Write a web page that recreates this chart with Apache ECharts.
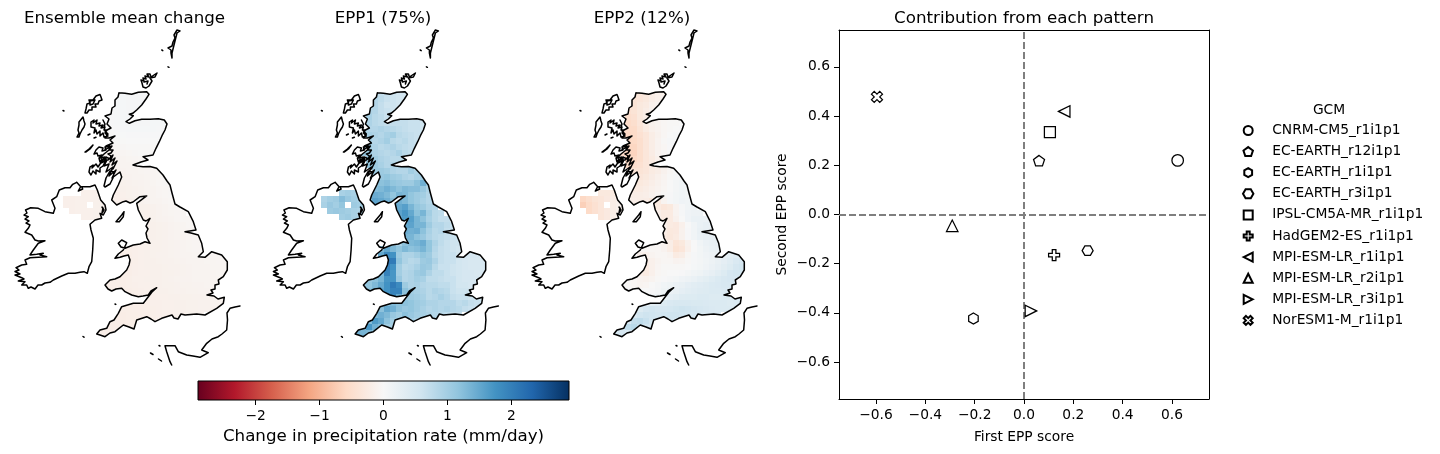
<!DOCTYPE html>
<html><head><meta charset="utf-8">
<script src="https://cdn.jsdelivr.net/npm/echarts@6/dist/echarts.min.js"></script>
<style>html,body{margin:0;padding:0;background:#fff}#c{width:1440px;height:454px}</style>
</head><body><div id="c"></div>
<script>
const gcmNames=['CNRM-CM5_r1i1p1','EC-EARTH_r12i1p1','EC-EARTH_r1i1p1','EC-EARTH_r3i1p1','IPSL-CM5A-MR_r1i1p1','HadGEM2-ES_r1i1p1','MPI-ESM-LR_r1i1p1','MPI-ESM-LR_r2i1p1','MPI-ESM-LR_r3i1p1','NorESM1-M_r1i1p1'];
const firstScore=[0.623,0.061,-0.205,0.258,0.105,0.122,0.163,-0.291,0.028,-0.596];
const secondScore=[0.22,0.219,-0.423,-0.147,0.335,-0.165,0.419,-0.046,-0.392,0.478];
const scoreTicks=[-0.6,-0.4,-0.2,0,0.2,0.4,0.6];
const barTicks=[-2,-1,0,1,2];
const panelTitles=['Ensemble mean change','EPP1 (75%)','EPP2 (12%)'];

// coastlines, map units, x,y pairs
const coastGB=[119,92.7,125,93.3,131.7,94.3,138.3,92.3,146.7,91.7,149,94.3,146,99,141.7,105,136.7,110,132.7,113.3,129.3,114.3,133.3,115.7,130,119,126,121.7,129.3,123.3,135,120.7,141.7,119.3,150,119.3,158.3,118.7,164.3,120,167,124,165,130,162,135.7,159.3,141.7,156,148.3,153,155,143,156.7,148,160,141,162,133,165,137,166,143,166.7,150,166.5,156.7,168.3,163,175,167,181,170,185,172,193,175,204,180,207,188.3,211.7,193.3,221.7,196,230,185,231.7,191,233,198.3,235,201.7,243.3,203.3,251.7,198.3,256.7,205,257.3,211.7,251.7,221.7,255,227.3,261.7,227.3,270,223.3,276.7,218.3,280,219,284,215,285,215,289,211,290,213,293,207,295,214,296,218,299,224.3,297.3,223.3,303.3,216.7,308.3,205,315,196.7,314,185,315,181,314,178,319,174,318,172,315,161.7,318.3,155,321.7,151,319,146.7,316.7,136.7,320,134,329,129,327,123.3,325,115,331.7,110,333,105,336.7,100,335,96.7,334,100,330,106.7,328.3,110,321.7,114,320,118.3,313.3,121.7,306.7,133.3,303.3,143.3,303.3,148.3,296.7,152,292,156.7,287.7,151,291,148.3,295,143,296,138.3,296.7,131.7,295,125,291.7,121.7,288.3,116,289,111.7,291,108,289,105,285,110,280,115,279,120,276.7,126.7,270,129,265,130,260,128.3,255,124,256,120,257.3,115,258.3,118.3,254,123.3,250,125,248.3,126.7,242.7,121.7,240,118.3,243.3,121,247,125,248.3,133.3,245,140,244,145,241.7,150,243.3,147,238,146,233,148,229,146,226,150,218.3,146,221,143.3,220,138.3,210,136.7,203.3,143.3,198.3,146.7,196,140,196.7,133,202,130,203,126,201,123.3,201.7,116.7,205,111.7,200,113.3,195,118.3,185,121.7,177,120,172,112,178,116,170,109,176,113,167,106,172,109,164,104,166,107,160,101,163,105,157,100,158,104,154,109,150,112,146,108,148,105,150,106,146,113,143,110,140,115,136,109,138,105,138,108,134,105,131,111,128,107,124,109,119,105,116,111,114,112,108,115,106,115,100,118,97,119,92.7];
const coastIreland=[76.7,182.3,80.7,186.7,78.3,191,82.7,189,81.7,186.7,90,186.7,95,185,97.3,190,100.7,200,105,205,106,210,103.3,215,100,213.3,101.7,218.3,95,220,90,224.3,91,230,93.3,238.3,92.7,250,91.7,261.7,89,266.7,87.3,273.3,84,271.7,80,272.3,75,273.3,68.3,273.3,61.7,276,53.3,280,50,282.3,45,283,41.7,285,38,285,35,289,31,287,28.3,288.3,26.7,285,21.7,285,25,281.7,18.3,281,24,279,21.7,277.7,15,275,20,274,15,271.5,19,270,16,267.7,21.7,265,26.7,264.3,25,260,30,257.7,46.7,256.7,40,255,43.3,253.3,36.7,254.3,30,255,33.3,250,38.3,243.3,45,240.7,38.3,241,35,240,31.7,235,25,232.3,28.3,228.3,30,225,26,223,29,221,25,219,28.3,216.7,24,215,27,213,25.5,210,30.7,207.7,38.3,208.3,45,211.7,53.3,213.3,55,208.3,51.7,200,56.7,196.7,59.3,190,65,187.7,70,187.7,72.7,184.3,76.7,182.3];
const coastIslands=[
 [91,122,94,120,93,123,97,120,96,124,100,123,99,126,103,125,101,128,105,127,104,130,107,130,105,133,108,136,104,137,103,133,100,136,100,131,97,134,96,130,94,133,92,131,95,128,91,127,93,125,91,122],
 [103,120,105,124,104,127],
 [85,152,89,149,93,145,90,149,86,152],
 [96,150,99,147,103,148,102,151,106,150,105,147,110,146,109,150,113,150,111,153,108,154,111,156,110,159,106,157,105,161,102,159,100,162,99,158,102,155,98,156,97,153,94,154,96,150],
 [108,160,113,155,110,162,115,158,112,165,117,161,113,169],
 [90,167,93,165,92,168,96,164,98,167,100,164,103,160,106,158,105,162,103,166,100,168,100,172,96,170,96,174,93,171,91,175,89,172,91,170,90,167],
 [104,186,106,178,110,171,114,172,113,178,110,184,105,187,104,186],
 [85,113,86,109,84,108,87,104,90,103,89,100,93,100,95,98,96,96,100,94.5,101,97,102,100,99,101,98,104,95,104,96,107,92,107,92,110,89,110,87,113,85,113],
 [90,101,95,100,97,101,93,104,90,105,90,101],
 [77,137,76,135,79,133,78,130,80,128,79,125,81,125,79,122,83,117,85,118,84,121,85,124,83,124,84,127,82,130,83,132,80,134,79,137,77,137],
 [142,83,141,80,144,81,143,78,146,79,145,76,149,77,147,74,150,74,151,77,153,75,157,73,158,75,155,77,153,79,150,78,152,81,150,83,149,86,147,84,146,88,143,87,144,85,142,83],
 [144,82,148,81,147,84],
 [177,30,180,31,177,33,179,35,176,37,178,39,175,41,177,43,174,45,176,47,173,49,175,51,172,53,174,55,172,58,171,53,169,52,171,50,168,48,172,46,170,44,173,42,172,40,175,38,174,35,177,30],
 [116,221.7,121.7,215,124,211.7,123.3,216.7,119.3,221.7,116,221.7],
 [102,207,104,210,102,213,103,208],
 [63,110.5,64,111],[161.8,50,162.8,50.6],[168,66.8,169,67.3],[115,304,115.8,304.4],[83,336.5,84,337.2],
 [94,138,96,137.2],[88,135,90,134],[150.5,353,153,354.5],[158.5,359,161.5,361],[159,345.5,160,346],
 [240,306,235,307,230,308.3,227,313,227.5,320,226.7,330,222,334,218.3,336.7,212,339,206.7,343.3,201.7,350,208.3,352.7,200,357.3,193,356,186.7,355,178.3,351.7,175,345.7,165,345.7,166.7,351.7,170,361.7,171.7,365]
];

// cell grid: first column of each row
const rowStart=[3,3,2,2,2,1,1,1,1,1,1,2,2,3,3,3,3,2,2,6,7,7,8,8,8,5,4,4,5,5,4,2,1,2,5,5,4,3,2,1,0];
const meanRows=[[4,4,5,5,5,5],[4,4,5,5,5,5],[3,4,4,5,5,5],[2,3,4,5,5],[2,3,4,4],[0,2,3,4,5,5,5,5,4,4,4],[-1,0,2,3,4,4,4,4,4,3,3],[-3,-2,0,1,2,2,2,2,2,2,2],[-5,-4,-3,-1,0,0,0,0,0,0],[-7,-6,-5,-4,-3,-2,-2,-2,-2,-2],[-9,-8,-7,-6,-5,-4,-3,-3,-3],[-10,-9,-8,-7,-6,-5,-4],[-11,-10,-9,-8,-7,-6,-5,-5],[-11,-10,-9,-8,-7,-6,-6,-5],[-12,-11,-10,-9,-8,-7,-6,-5,-4],[-14,-13,-12,-11,-10,-8,-7,-5,-4,-4],[-15,-14,-13,-12,-11,-9,-8,-6,-5,-4],[-15,-16,-15,-13,-12,-11,-9,-8,-6,-5,-4],[-15,-16,-16,-14,-13,-12,-10,-9,-8,-6,-5,-4],[-13,-14,-14,-12,-10,-8,-6,-5],[-14,-15,-13,-11,-9,-7,-6,-5],[-14,-15,-13,-11,-10,-8,-6,-5,-5],[-14,-14,-13,-12,-10,-8,-7,-5,-5],[-14,-14,-13,-12,-10,-9,-7,-6,-5],[-14,-14,-13,-12,-10,-9,-8,-6,-5,-5],[-16,-15,-14,-14,-13,-13,-12,-11,-10,-9,-7,-6,-6],[-17,-17,-16,-15,-14,-13,-13,-12,-11,-10,-8,-7,-6,-6],[-18,-18,-16,-15,-14,-13,-12,-12,-11,-10,-9,-8,-7,-7,-6,-6,-6],[-18,-17,-15,-14,-14,-13,-12,-12,-11,-10,-9,-8,-8,-7,-7,-6,-6],[-18,-16,-15,-14,-14,-14,-13,-12,-12,-11,-10,-9,-8,-8,-7,-7,-6],[-18,-18,-16,-15,-15,-14,-14,-13,-13,-12,-11,-10,-9,-9,-8,-8,-7,-7],[-18,-18,-18,-17,-15,-15,-14,-14,-14,-13,-12,-11,-10,-10,-9,-9,-8,-8,-8],[-18,-18,-18,-18,-17,-16,-15,-15,-14,-14,-13,-13,-12,-11,-11,-10,-10,-9,-9,-9],[-18,-18,-19,-18,-17,-16,-15,-15,-14,-14,-13,-12,-12,-11,-11,-10,-10,-10],[-18,-18,-17,-16,-16,-15,-15,-14,-14,-13,-13,-12,-12,-11,-11,-11,-10],[-18,-18,-18,-17,-16,-16,-15,-15,-14,-14,-13,-13,-12,-12,-11,-11,-11],[-19,-19,-18,-18,-17,-17,-16,-15,-15,-14,-14,-13,-13,-12,-12,-12,-11],[-20,-20,-19,-19,-18,-18,-17,-16,-15,-15,-14,-14,-13,-13,-12],[-20,-20,-20,-19,-19,-18,-18,-17,-16],[-20,-20,-20,-19,-19,-18],[-18,-18,-18,-18]];
const epp1Rows=[[80,70,65,60,55,55],[85,75,65,60,55,55],[85,85,70,60,60,55],[90,85,70,65,60],[95,80,75,65],[90,90,80,75,70,70,70,70,65,65,60],[95,85,85,90,85,80,75,70,65,65,60],[100,95,90,85,95,100,80,75,70,65,65],[100,100,85,90,100,80,75,80,70,65],[105,100,90,80,85,90,80,75,70,70],[110,105,90,85,80,85,95,80,75],[110,100,90,85,80,80,75],[115,105,95,85,90,95,100,95],[105,105,100,90,85,85,100,90],[105,110,115,105,100,90,85,95,100],[115,120,125,115,110,105,105,120,140,105],[125,130,140,130,120,130,125,125,110,90],[125,145,140,130,115,135,130,115,105,100,85],[120,155,150,140,125,140,130,115,105,95,85,80],[130,150,160,135,115,105,90,85],[155,170,150,120,135,100,80,75],[150,165,160,135,120,95,80,70,70],[150,155,135,135,105,85,85,75,65],[145,140,145,120,95,80,85,70,65],[135,135,120,110,90,80,75,70,65,60],[120,110,95,120,130,135,145,115,90,75,65,60,60],[130,150,130,115,130,120,125,135,115,85,70,65,60,55],[150,185,175,105,90,90,100,115,105,80,70,65,65,55,50,50,50],[210,205,115,90,80,85,105,110,90,70,65,65,55,50,48,48,48],[200,175,100,80,85,95,110,105,80,65,65,60,55,50,48,48,48],[130,195,170,100,85,90,105,110,90,75,75,65,60,55,50,50,48,48],[110,120,135,170,170,110,85,90,100,95,75,75,70,65,65,55,50,50,50],[110,115,130,150,175,205,185,105,90,95,85,80,80,75,75,65,55,55,50,50],[120,135,155,175,195,195,120,100,95,90,80,90,85,80,65,60,60,55],[150,190,150,105,105,100,95,80,85,95,85,70,65,65,60,55,55],[120,130,120,120,115,105,100,90,90,85,85,85,75,80,70,65,60],[120,150,140,120,110,115,105,95,85,90,85,90,85,80,70,65,65],[130,140,130,110,100,120,110,100,95,90,85,80,75,70,70],[125,165,150,120,100,100,115,100,90],[130,170,140,125,100,95],[140,135,130,120]];
const epp2Rows=[[-35,-35,-30,-20,-15,-15],[-40,-35,-30,-20,-15,-10],[-40,-40,-30,-25,-15,-10],[-45,-40,-30,-20,-12],[-50,-45,-30,-20],[-45,-55,-50,-35,-20,-12,-8,-5,-3,-2,0],[-50,-55,-55,-40,-25,-15,-10,-5,-2,0,2],[-50,-60,-55,-45,-35,-20,-12,-5,0,3,3],[-50,-62,-58,-50,-35,-20,-10,-3,3,3],[-55,-62,-62,-50,-35,-20,-10,-5,2,3],[-55,-62,-65,-50,-35,-22,-10,-5,0],[-60,-60,-50,-35,-25,-15,-8],[-55,-50,-45,-35,-25,-15,-10,-5],[-40,-40,-35,-25,-20,-12,-5,0],[-35,-35,-30,-22,-15,-8,-3,3,5],[-30,-30,-25,-18,-12,-6,0,6,10,8],[-25,-25,-20,-15,-10,-5,0,6,10,8],[-15,-20,-20,-18,-12,-6,-3,2,8,10,8],[-15,-18,-20,-22,-30,-25,-8,3,8,12,10,8],[-15,-25,-35,-30,-10,3,10,12],[-18,-25,-25,-8,3,12,15,15],[-15,-25,-25,-12,0,12,20,20,18],[-15,-25,-28,-15,0,10,20,25,22],[-20,-30,-28,-12,2,10,22,25,25],[-25,-32,-25,-12,2,10,20,25,25,25],[-5,-5,-5,-10,-20,-38,-30,-12,0,10,18,22,25],[-5,-5,-5,-5,-10,-20,-42,-35,-15,0,8,15,20,22],[-15,-15,-8,-5,-5,-8,-25,-20,-5,3,8,12,15,20,25,30,35],[-22,-15,-8,-5,-5,-10,-8,-2,3,6,10,15,22,28,35,45,50],[-25,-15,-6,-3,-2,-3,-2,0,4,8,12,18,25,32,40,50,55],[-20,-25,-15,-5,-2,0,0,2,6,10,14,20,25,32,40,50,55,55],[-3,-5,-10,-12,-8,-2,2,5,8,12,15,20,26,30,36,42,48,50,50],[0,-2,-5,-8,-6,0,5,10,14,18,22,28,32,35,38,42,45,48,48,45],[2,3,2,0,2,6,14,18,22,28,32,35,38,40,42,42,45,45],[8,10,15,22,28,32,38,40,40,42,42,40,40,42,42,45,45],[25,30,35,40,45,48,48,48,46,46,45,42,42,42,40,42,42],[40,50,55,50,50,52,56,60,58,54,50,48,45,42,42,42,42],[45,55,60,58,55,58,60,60,58,55,50,48,45,45,45],[50,70,75,65,55,55,60,58,55],[50,75,80,65,55,50],[50,50,45,45]];
// Northern Ireland cells
const niStart=[3,0,0,1,3];
const niMean=[[-15,-15,-15,-15],[-16,-16,-15,-15,-15,-14,-14],[-16,-16,-15,-15,null,-14,-14],[-16,-15,-15,-15,-14,-14],[-15,-15,-14,-14]];
const niEpp1=[[95,100,95,90],[90,100,105,125,110,100,95],[95,110,100,115,null,105,100],[105,110,105,100,95,90],[100,105,95,90]];
const niEpp2=[[-30,-30,-25,-20],[-60,-50,-40,-35,-28,-22,-18],[-70,-55,-45,-35,null,-20,-15],[-55,-45,-35,-28,-20,-15],[-35,-28,-18,-12]];

const ramp=['#67001f','#b2182b','#d6604d','#f4a582','#fddbc7','#f7f7f7','#d1e5f0','#92c5de','#4393c3','#2166ac','#053061'];
const barMin=-2.9,barMax=2.9;
function hex(c){return [1,3,5].map(i=>parseInt(c.substr(i,2),16));}
function rdbu(v){
  let t=(v-barMin)/(barMax-barMin)*(ramp.length-1);
  t=Math.max(0,Math.min(ramp.length-1.0001,t));
  const i=Math.floor(t),f=t-i,a=hex(ramp[i]),b=hex(ramp[i+1]);
  return 'rgb('+a.map((x,k)=>Math.round(x+(b[k]-x)*f)).join(',')+')';
}
function pairs(flat){const o=[];for(let i=0;i<flat.length;i+=2)o.push([flat[i],flat[i+1]]);return o;}
function coastData(){
  let o=[];
  [coastGB,coastIreland].concat(coastIslands).forEach(l=>{o=o.concat(pairs(l));o.push(['-','-']);});
  return o;
}
const cellSize=6;
function cells(rows,nrows){
  const o=[];
  rows.forEach((vals,r)=>vals.forEach((v,k)=>{
    const x=96+cellSize*(rowStart[r]+k),y=90+cellSize*r;
    o.push([x,y,x+cellSize,y+cellSize,v/100,0]);
  }));
  nrows.forEach((vals,r)=>vals.forEach((v,k)=>{
    if(v===null)return;
    const x=63+cellSize*(niStart[r]+k),y=190+cellSize*r;
    o.push([x,y,x+cellSize,y+cellSize,v/100,1]);
  }));
  return o;
}
const panelOffsets=[10,268.4,527];
const titleCentres=[124.5,383,642];
const panelData=[[meanRows,niMean],[epp1Rows,niEpp1],[epp2Rows,niEpp2]];
const grids=[],xAxes=[],yAxes=[],series=[],titles=[];
const tsty={fontFamily:'DejaVu Sans',fontWeight:'normal',color:'#000',fontSize:16.7};
panelData.forEach((p,i)=>{
  grids.push({left:panelOffsets[i],top:25,width:235,height:345,show:false});
  xAxes.push({type:'value',gridIndex:i,min:10,max:245,show:false});
  yAxes.push({type:'value',gridIndex:i,min:25,max:370,inverse:true,show:false});
  const clips=[null,null];
  series.push({type:'custom',xAxisIndex:i,yAxisIndex:i,silent:true,animation:false,clip:false,z:2,
    encode:{x:[0,2],y:[1,3]},data:cells(p[0],p[1]),
    renderItem:function(params,api){
      const w=api.value(5);
      if(!clips[w]){clips[w]=pairs(w?coastIreland:coastGB).map(c=>api.coord(c));}
      const a=api.coord([api.value(0),api.value(1)]),b=api.coord([api.value(2),api.value(3)]);
      const x=Math.round(a[0]),y=Math.round(a[1]);
      return {type:'rect',shape:{x:x,y:y,width:Math.round(b[0])-x,height:Math.round(b[1])-y},
        style:{fill:rdbu(api.value(4))},
        clipPath:{type:'polygon',shape:{points:clips[w]}}};
    }});
  series.push({type:'line',xAxisIndex:i,yAxisIndex:i,data:coastData(),showSymbol:false,symbol:'none',silent:true,animation:false,clip:false,z:3,connectNulls:false,
    lineStyle:{color:'#000',width:1.5,cap:'round',join:'round'}});
  titles.push({text:panelTitles[i],left:titleCentres[i],top:10,padding:0,textAlign:'center',textStyle:tsty});
});
titles.push({text:'Contribution from each pattern',left:1024,top:10,padding:0,textAlign:'center',textStyle:tsty});
titles.push({text:'GCM',left:1329,top:103,padding:0,textAlign:'center',textStyle:Object.assign({},tsty,{fontSize:13.8})});

// scatter panel (grid 3)
const tickFont={fontFamily:'DejaVu Sans',color:'#000',fontSize:13.8};
const minus=v=>String(v).replace('-','\u2212');
const fmt1=v=>minus(Number(v).toFixed(1));
grids.push({left:839,top:30,width:370,height:369,show:false});
xAxes.push({type:'value',gridIndex:3,min:-0.75,max:0.75,position:'bottom',splitLine:{show:false},
  name:'First EPP score',nameLocation:'middle',nameGap:31,nameTextStyle:tickFont,
  axisLine:{onZero:false,lineStyle:{color:'#000',width:1}},
  axisTick:{length:5,customValues:scoreTicks,lineStyle:{color:'#000'}},
  axisLabel:{customValues:scoreTicks,formatter:fmt1,margin:9,hideOverlap:false,showMinLabel:true,showMaxLabel:true,...tickFont}});
yAxes.push({type:'value',gridIndex:3,min:-0.75,max:0.75,position:'left',splitLine:{show:false},
  name:'Second EPP score',nameLocation:'middle',nameGap:50,nameTextStyle:tickFont,
  axisLine:{onZero:false,lineStyle:{color:'#000',width:1}},
  axisTick:{length:5,customValues:scoreTicks,lineStyle:{color:'#000'}},
  axisLabel:{customValues:scoreTicks,formatter:fmt1,margin:9,...tickFont}});
// top/right frame
xAxes.push({type:'value',gridIndex:3,min:-0.75,max:0.75,position:'top',axisLine:{onZero:false,show:true,lineStyle:{color:'#000'}},axisTick:{show:false},axisLabel:{show:false},splitLine:{show:false}});
yAxes.push({type:'value',gridIndex:3,min:-0.75,max:0.75,position:'right',axisLine:{onZero:false,show:true,lineStyle:{color:'#000'}},axisTick:{show:false},axisLabel:{show:false},splitLine:{show:false}});
const symbols=['circle',
 'path://M0,-1 L0.951,-0.309 L0.588,0.809 L-0.588,0.809 L-0.951,-0.309 Z',
 'path://M0,-1 L0.866,-0.5 L0.866,0.5 L0,1 L-0.866,0.5 L-0.866,-0.5 Z',
 'path://M-1,0 L-0.5,-0.866 L0.5,-0.866 L1,0 L0.5,0.866 L-0.5,0.866 Z',
 'path://M-1,-1 L1,-1 L1,1 L-1,1 Z',
 'path://M-0.33,-1 L0.33,-1 L0.33,-0.33 L1,-0.33 L1,0.33 L0.33,0.33 L0.33,1 L-0.33,1 L-0.33,0.33 L-1,0.33 L-1,-0.33 L-0.33,-0.33 Z',
 'path://M-1,0 L1,-1 L1,1 Z',
 'path://M0,-1 L1,1 L-1,1 Z',
 'path://M1,0 L-1,-1 L-1,1 Z',
 'path://M-0.5,-1 L0,-0.5 L0.5,-1 L1,-0.5 L0.5,0 L1,0.5 L0.5,1 L0,0.5 L-0.5,1 L-1,0.5 L-0.5,0 L-1,-0.5 Z'];
const sizes=[11.5,11,11,11,11,11,11.5,11.5,11.5,11];
gcmNames.forEach((n,i)=>{
  const s={type:'scatter',name:n,xAxisIndex:3,yAxisIndex:3,z:4,animation:false,silent:true,
    data:[[firstScore[i],secondScore[i]]],symbol:symbols[i],symbolSize:sizes[i],symbolKeepAspect:true,
    itemStyle:{color:'#fff',borderColor:'#000',borderWidth:1.25,opacity:1}};
  if(i===0){s.markLine={silent:true,symbol:'none',animation:false,label:{show:false},z:3,
    lineStyle:{color:'#7f7f7f',type:[7,3],width:2},data:[{xAxis:0},{yAxis:0}]};}
  series.push(s);
});
// colour bar (grid 4)
grids.push({left:198,top:381,width:371,height:19,show:false});
xAxes.push({type:'value',gridIndex:4,min:barMin,max:barMax,position:'bottom',splitLine:{show:false},
  name:'Change in precipitation rate (mm/day)',nameLocation:'middle',nameGap:28,nameTextStyle:{fontFamily:'DejaVu Sans',color:'#000',fontSize:16.7},
  axisLine:{show:false,onZero:false,lineStyle:{color:'#000'}},axisTick:{show:true,length:5,customValues:barTicks,lineStyle:{color:'#000'}},
  axisLabel:{customValues:barTicks,formatter:v=>minus(v),margin:9,...tickFont}});
yAxes.push({type:'value',gridIndex:4,min:0,max:1,show:false});
series.push({type:'custom',xAxisIndex:5,yAxisIndex:5,silent:true,animation:false,z:2,clip:false,
  data:[[barMin,0,barMax,1]],encode:{x:[0,2],y:[1,3]},
  renderItem:function(params,api){
    const a=api.coord([api.value(0),api.value(3)]),b=api.coord([api.value(2),api.value(1)]);
    return {type:'rect',shape:{x:a[0],y:a[1],width:b[0]-a[0],height:b[1]-a[1]},
      style:{stroke:'#000',lineWidth:1,fill:new echarts.graphic.LinearGradient(0,0,1,0,ramp.map((c,i)=>({offset:i/(ramp.length-1),color:c})))}};
  }});
const chart=echarts.init(document.getElementById('c'),null,{renderer:'canvas'});
chart.setOption({animation:false,backgroundColor:'#fff',title:titles,grid:grids,xAxis:xAxes,yAxis:yAxes,series:series,
  legend:{show:true,orient:'vertical',left:1242,top:123.5,padding:0,selectedMode:false,itemWidth:38,itemHeight:9,itemGap:7.1,
    inactiveColor:'#000',data:gcmNames,textStyle:{fontFamily:'DejaVu Sans',color:'#000',fontSize:13.8,lineHeight:13}}});
</script></body></html>
